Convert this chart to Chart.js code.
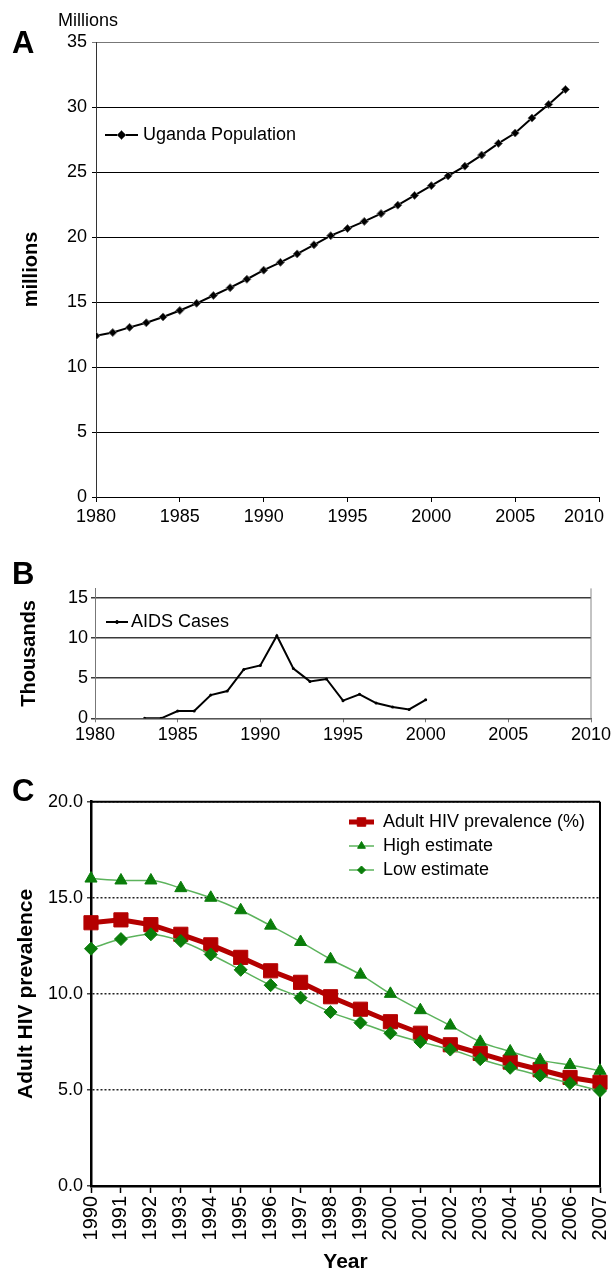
<!DOCTYPE html>
<html>
<head>
<meta charset="utf-8">
<script src="https://cdn.jsdelivr.net/npm/chart.js@4.4.1/dist/chart.umd.min.js"></script>
<style>
    html, body { margin: 0; padding: 0; background: #fff; }
    body { width: 611px; height: 1273px; position: relative; overflow: hidden; }
    canvas { position: absolute; left: 0; }
    #chartA { top: 0; }
    #chartB { top: 545px; }
    #chartC { top: 760px; }
</style>
</head>
<body>
<canvas id="chartA" width="611" height="545"></canvas>
<canvas id="chartB" width="611" height="215"></canvas>
<canvas id="chartC" width="611" height="513"></canvas>
<script>
// ─── Data ────────────────────────────────────────────────────────────
const popYears = [1980, 1981, 1982, 1983, 1984, 1985, 1986, 1987, 1988, 1989,
                  1990, 1991, 1992, 1993, 1994, 1995, 1996, 1997, 1998, 1999,
                  2000, 2001, 2002, 2003, 2004, 2005, 2006, 2007, 2008];
const popMillions = [12.4, 12.65, 13.05, 13.4, 13.85, 14.35, 14.9, 15.5, 16.1, 16.75,
                     17.45, 18.05, 18.7, 19.4, 20.1, 20.65, 21.2, 21.8, 22.45, 23.2,
                     23.95, 24.7, 25.45, 26.3, 27.2, 28.0, 29.15, 30.2, 31.35];

const aidsYears = [1983, 1984, 1985, 1986, 1987, 1988, 1989, 1990, 1991,
                   1992, 1993, 1994, 1995, 1996, 1997, 1998, 1999, 2000];
const aidsThousands = [0, 0, 0.9, 0.9, 2.9, 3.4, 6.1, 6.6, 10.3,
                       6.2, 4.6, 4.9, 2.2, 3.0, 1.9, 1.4, 1.1, 2.3];

const hivYears = ['1990', '1991', '1992', '1993', '1994', '1995', '1996', '1997', '1998',
                  '1999', '2000', '2001', '2002', '2003', '2004', '2005', '2006', '2007'];
const hivPrevalence = [13.7, 13.85, 13.6, 13.1, 12.55, 11.9, 11.2, 10.6, 9.85,
                       9.2, 8.55, 7.95, 7.35, 6.9, 6.45, 6.05, 5.65, 5.4];
const hivHigh = [16.0, 15.9, 15.9, 15.5, 15.0, 14.35, 13.55, 12.7, 11.8,
                 11.0, 10.0, 9.15, 8.35, 7.5, 7.0, 6.55, 6.3, 6.0];
const hivLow = [12.35, 12.85, 13.1, 12.75, 12.05, 11.25, 10.45, 9.8, 9.05,
                8.5, 7.95, 7.5, 7.1, 6.6, 6.15, 5.75, 5.35, 4.95];

const FONT = '"Liberation Sans", Arial, sans-serif';
Chart.defaults.font.family = FONT;
Chart.defaults.color = '#000';

// fixed axis box size; no automatic shrinking for overhanging labels
function fixBox(w, h) {
    return s => {
        if (w != null) s.width = w;
        if (h != null) s.height = h;
        s.paddingLeft = s.paddingRight = s.paddingTop = s.paddingBottom = 0;
    };
}

// ─── Small plugins ───────────────────────────────────────────────────
// free text: panel letters, unit captions
const panelText = {
    id: 'panelText',
    afterDraw(chart, args, opts) {
        const ctx = chart.ctx;
        (opts.items || []).forEach(t => {
            ctx.save();
            ctx.font = t.font;
            ctx.fillStyle = '#000';
            ctx.textBaseline = 'alphabetic';
            ctx.fillText(t.text, t.x, t.y);
            ctx.restore();
        });
    }
};

// legend with a line segment and marker, like the spreadsheet legends
const lineLegend = {
    id: 'lineLegend',
    afterDraw(chart, args, opts) {
        const ctx = chart.ctx;
        chart.data.datasets.forEach((ds, i) => {
            const y = opts.y + i * (opts.rowHeight || 0);
            const x0 = opts.x, x1 = opts.x + opts.lineLength;
            ctx.save();
            ctx.strokeStyle = ds.borderColor;
            ctx.lineWidth = ds.borderWidth;
            ctx.beginPath();
            ctx.moveTo(x0, y);
            ctx.lineTo(x1, y);
            ctx.stroke();
            ctx.fillStyle = ds.pointBackgroundColor;
            ctx.strokeStyle = ds.pointBorderColor;
            ctx.lineWidth = 1;
            Chart.helpers.drawPoint(ctx, {
                pointStyle: ds.pointStyle, radius: opts.radius[i], borderWidth: 1, rotation: 0
            }, (x0 + x1) / 2, y);
            ctx.font = opts.font;
            ctx.fillStyle = '#000';
            ctx.textBaseline = 'middle';
            ctx.fillText(ds.label, x1 + opts.gap, y);
            ctx.restore();
        });
    }
};

// top / right edges of the plot box
const frame = {
    id: 'frame',
    beforeDatasetsDraw(chart, args, opts) {
        const { ctx, chartArea: a } = chart;
        ctx.save();
        ctx.strokeStyle = opts.color;
        ctx.lineWidth = opts.width;
        ctx.beginPath();
        if (opts.top) { ctx.moveTo(a.left, a.top); ctx.lineTo(a.right, a.top); }
        if (opts.right) { ctx.moveTo(a.right, a.top); ctx.lineTo(a.right, a.bottom); }
        ctx.stroke();
        ctx.restore();
    }
};

// ─── A: Uganda population ────────────────────────────────────────────
new Chart(document.getElementById('chartA'), {
    type: 'line',
    data: {
        datasets: [{
            label: 'Uganda Population',
            data: popYears.map((yr, i) => ({ x: yr, y: popMillions[i] })),
            borderColor: '#000',
            borderWidth: 2,
            pointStyle: 'rectRot',
            pointRadius: 4,
            pointBackgroundColor: '#000',
            pointBorderColor: '#666',
            pointBorderWidth: 1
        }]
    },
    options: {
        responsive: false,
        animation: false,
        layout: { padding: { left: 0, top: 42, right: 12, bottom: 0 } },
        plugins: {
            legend: { display: false },
            tooltip: { enabled: false },
            panelText: { items: [
                { text: 'A', font: 'bold 31px ' + FONT, x: 12, y: 53 },
                { text: 'Millions', font: '18px ' + FONT, x: 58, y: 26 }
            ] },
            lineLegend: { x: 105, y: 135, lineLength: 33, gap: 5, font: '18px ' + FONT, radius: [4.5] }
        },
        scales: {
            x: {
                type: 'linear', min: 1980, max: 2010,
                afterFit: fixBox(null, 48),
                ticks: {
                    stepSize: 5, font: { size: 18 }, padding: 4, color: '#000',
                    // last label kept inside the page, as in the original
                    callback: v => v === 2010 ? '2010\u2007\u2007\u2007' : String(v)
                },
                grid: { drawOnChartArea: false, tickLength: 5, color: '#000' },
                border: { color: '#000' }
            },
            y: {
                min: 0, max: 35,
                afterFit: fixBox(96, null),
                ticks: { stepSize: 5, font: { size: 18 }, padding: 5, color: '#000' },
                grid: { color: c => (c.tick && c.tick.value === 35) ? '#777' : '#000', tickLength: 4 },
                border: { color: '#333' },
                title: { display: true, text: 'millions', font: { size: 20, weight: 'bold', lineHeight: 1 }, padding: { top: 21, bottom: 0 } }
            }
        }
    },
    plugins: [panelText, lineLegend]
});

// ─── B: AIDS cases ───────────────────────────────────────────────────
new Chart(document.getElementById('chartB'), {
    type: 'line',
    data: {
        datasets: [{
            label: 'AIDS Cases',
            data: aidsYears.map((yr, i) => ({ x: yr, y: aidsThousands[i] })),
            borderColor: '#000',
            borderWidth: 2,
            pointStyle: 'circle',
            pointRadius: 1.5,
            pointBackgroundColor: '#000',
            pointBorderColor: '#000',
            pointBorderWidth: 0
        }]
    },
    options: {
        responsive: false,
        animation: false,
        layout: { padding: { left: 0, top: 43.4, right: 20, bottom: 0 } },
        plugins: {
            legend: { display: false },
            tooltip: { enabled: false },
            panelText: { items: [ { text: 'B', font: 'bold 31px ' + FONT, x: 12, y: 39 } ] },
            lineLegend: { x: 106, y: 77, lineLength: 22, gap: 3, font: '18px ' + FONT, radius: [1.5] },
            frame: { right: true, color: '#888', width: 1 }
        },
        scales: {
            x: {
                type: 'linear', min: 1980, max: 2010,
                afterFit: fixBox(null, 41.7),
                ticks: { stepSize: 5, font: { size: 18 }, padding: 2, color: '#000', callback: v => String(v) },
                grid: { color: 'rgba(0,0,0,0)', tickColor: '#777', tickLength: 4 },
                border: { color: '#555' }
            },
            y: {
                min: 0, max: 16.2,
                afterFit: fixBox(95, null),
                ticks: { stepSize: 5, includeBounds: false, font: { size: 18 }, padding: 3, color: '#000' },
                grid: { color: '#3a3a3a', lineWidth: 1.5, tickLength: 4 },
                border: { color: '#777' },
                title: { display: true, text: 'Thousands', font: { size: 20, weight: 'bold', lineHeight: 1 }, padding: { top: 19, bottom: 0 } }
            }
        }
    },
    plugins: [panelText, lineLegend, frame]
});

// ─── C: Adult HIV prevalence ─────────────────────────────────────────
const RED = '#b40000';
const GREEN = '#0a7d0a';
const GREEN_LINE = '#5cb35c';

new Chart(document.getElementById('chartC'), {
    type: 'line',
    data: {
        labels: hivYears,
        datasets: [{
            label: 'Adult HIV prevalence (%)',
            data: hivPrevalence,
            order: 2,
            borderColor: RED,
            borderWidth: 5,
            pointStyle: 'rect',
            pointRadius: 10,
            pointBackgroundColor: RED,
            pointBorderColor: RED,
            pointBorderWidth: 1
        }, {
            label: 'High estimate',
            data: hivHigh,
            order: 1,
            borderColor: GREEN_LINE,
            borderWidth: 1.5,
            cubicInterpolationMode: 'monotone',
            pointStyle: 'triangle',
            pointRadius: 7,
            pointBackgroundColor: GREEN,
            pointBorderColor: GREEN,
            pointBorderWidth: 1
        }, {
            label: 'Low estimate',
            data: hivLow,
            order: 0,
            borderColor: GREEN_LINE,
            borderWidth: 1.5,
            cubicInterpolationMode: 'monotone',
            pointStyle: 'rectRot',
            pointRadius: 6.5,
            pointBackgroundColor: GREEN,
            pointBorderColor: GREEN,
            pointBorderWidth: 1
        }]
    },
    options: {
        responsive: false,
        animation: false,
        layout: { padding: { left: 0, top: 41.7, right: 9, bottom: 0 } },
        plugins: {
            legend: { display: false },
            tooltip: { enabled: false },
            panelText: { items: [ { text: 'C', font: 'bold 31px ' + FONT, x: 12, y: 41 } ] },
            lineLegend: { x: 349, y: 62, rowHeight: 24, lineLength: 25, gap: 9, font: '18px ' + FONT, radius: [6, 4.5, 4] },
            frame: { top: true, right: true, color: '#000', width: 2 }
        },
        scales: {
            x: {
                type: 'category',
                afterFit: fixBox(null, 87),
                ticks: { minRotation: 90, maxRotation: 90, autoSkip: false, font: { size: 20 }, padding: 3, color: '#000' },
                grid: { color: 'rgba(0,0,0,0)', tickColor: '#000', tickLength: 7, tickWidth: 1.5 },
                border: { color: '#000', width: 2.5 },
                title: { display: true, text: 'Year', font: { size: 21, weight: 'bold', lineHeight: 1 }, padding: { top: 0, bottom: 0 } }
            },
            y: {
                min: 0, max: 20,
                afterFit: fixBox(91, null),
                ticks: { stepSize: 5, font: { size: 18 }, padding: 4, color: '#000', callback: v => v.toFixed(1) },
                grid: { color: '#222', lineWidth: 1.5, tickLength: 4, tickColor: '#444' },
                border: { color: '#000', width: 2.5, dash: [2, 2] },
                title: { display: true, text: 'Adult HIV prevalence', font: { size: 21, weight: 'bold', lineHeight: 1 }, padding: { top: 16, bottom: 0 } }
            }
        }
    },
    plugins: [panelText, lineLegend, frame]
});
</script>
</body>
</html>
